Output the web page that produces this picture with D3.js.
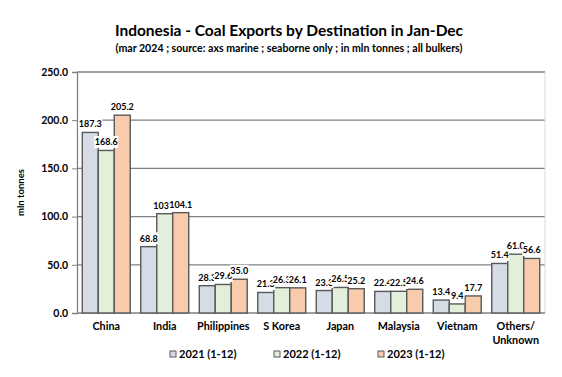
<!DOCTYPE html>
<html>
<head>
<meta charset="utf-8">
<script src="https://cdn.jsdelivr.net/npm/d3@7"></script>
<style>
  body { margin: 0; background: #fff; }
  text { font-family: Lato, "Open Sans", sans-serif; font-weight: bold; fill: #000; }
</style>
</head>
<body>
<div id="container"></div>
<script>
/* DATA */
const categories = ["China", "India", "Philippines", "S Korea", "Japan", "Malaysia", "Vietnam", "Others/\nUnknown"]
const seriesNames = ["2021 (1-12)", "2022 (1-12)", "2023 (1-12)"]
const values2021 = [187.3, 68.8, 28.3, 21.3, 23.3, 22.4, 13.4, 51.4]
const values2022 = [168.6, 103.0, 29.6, 26.3, 26.5, 22.5, 9.4, 61.0]
const values2023 = [205.2, 104.1, 35.0, 26.1, 25.2, 24.6, 17.7, 56.6]
const yTicks = [0, 50, 100, 150, 200, 250]

/* CONSTANTS */
const width = 562, height = 377
const margin = { top: 72, bottom: 64, left: 77, right: 17 }
const colors = ["#d6dce5", "#e2efda", "#f8cbad"]
const allValues = [values2021, values2022, values2023]

const svg = d3.select("#container").append("svg")
  .attr("width", width)
  .attr("height", height)

/* SCALES */
const xScale = d3.scaleBand()
  .domain(categories)
  .range([margin.left, width - margin.right])
  .paddingInner(0.18)
  .paddingOuter(0.09)

const xSub = d3.scaleBand()
  .domain(seriesNames)
  .range([0, xScale.bandwidth()])

const yScale = d3.scaleLinear()
  .domain([0, 250])
  .range([height - margin.bottom, margin.top])

// title
svg.append("text")
  .attr("x", 289).attr("y", 36)
  .attr("text-anchor", "middle")
  .style("font-size", "15.5px")
  .text("Indonesia - Coal Exports by Destination in Jan-Dec")

svg.append("text")
  .attr("x", 289).attr("y", 52)
  .attr("text-anchor", "middle")
  .style("font-size", "10.6px")
  .text("(mar 2024 ; source: axs marine ; seaborne only ; in mln tonnes ; all bulkers)")

// gridlines
svg.append("g")
  .selectAll("line")
  .data(yTicks.slice(1))
  .join("line")
  .attr("x1", margin.left).attr("x2", width - margin.right)
  .attr("y1", d => yScale(d)).attr("y2", d => yScale(d))
  .attr("stroke", "#808080")
  .attr("stroke-width", 1.3)

// right border
svg.append("line")
  .attr("x1", width - margin.right).attr("x2", width - margin.right)
  .attr("y1", margin.top).attr("y2", yScale(0))
  .attr("stroke", "#d9d9d9")

// y axis
const yAxis = d3.axisLeft(yScale)
  .tickValues(yTicks)
  .tickFormat(d3.format(".1f"))
  .tickSize(5)
  .tickPadding(4)

const gy = svg.append("g")
  .attr("transform", `translate(${margin.left},0)`)
  .call(yAxis)
gy.select(".domain").attr("stroke", "#808080").attr("stroke-width", 1.3)
gy.selectAll(".tick line").attr("stroke", "#808080")
gy.selectAll("text").style("font-size", "10.5px").style("font-family", "Lato, sans-serif")

svg.append("text")
  .attr("transform", `translate(24,${yScale(125)}) rotate(-90)`)
  .attr("text-anchor", "middle")
  .style("font-size", "9.5px")
  .text("mln tonnes")

// x axis
svg.append("line")
  .attr("x1", margin.left).attr("x2", width - margin.right)
  .attr("y1", yScale(0)).attr("y2", yScale(0))
  .attr("stroke", "#808080").attr("stroke-width", 1.3)

svg.append("g")
  .selectAll("text")
  .data(categories)
  .join("text")
  .attr("x", d => xScale(d) + xScale.bandwidth() / 2)
  .attr("y", yScale(0) + 17)
  .attr("text-anchor", "middle")
  .style("font-size", "10.8px")
  .each(function (d) {
    d.split("\n").forEach((line, i) => {
      d3.select(this).append("tspan")
        .attr("x", xScale(d) + xScale.bandwidth() / 2)
        .attr("dy", i === 0 ? 0 : 14)
        .text(line)
    })
  })

// bars
const barData = []
categories.forEach((c, ci) => {
  seriesNames.forEach((s, si) => {
    barData.push({ cat: c, series: s, si: si, value: allValues[si][ci] })
  })
})

svg.append("g")
  .selectAll("rect")
  .data(barData)
  .join("rect")
  .attr("x", d => xScale(d.cat) + xSub(d.series))
  .attr("y", d => yScale(d.value))
  .attr("width", xSub.bandwidth())
  .attr("height", d => yScale(0) - yScale(d.value))
  .attr("fill", d => colors[d.si])
  .attr("stroke", "#595959")
  .attr("stroke-width", 1.4)

// value labels with white boxes (later ones cover earlier ones)
const labelG = svg.append("g")
barData.forEach(d => {
  const cx = xScale(d.cat) + xSub(d.series) + xSub.bandwidth() / 2
  const cy = yScale(d.value) - 5
  const g = labelG.append("g")
  const rect = g.append("rect").attr("fill", "#fff")
  const t = g.append("text")
    .attr("x", cx).attr("y", cy)
    .attr("text-anchor", "middle")
    .style("font-size", "9px")
    .text(d3.format(".1f")(d.value))
  const w = t.node().getComputedTextLength()
  rect.attr("x", cx - w / 2 - 0.5).attr("y", cy - 9.5)
    .attr("width", w + 1).attr("height", 12)
})

// legend
const legend = svg.append("g")
  .selectAll("g")
  .data(seriesNames)
  .join("g")
  .attr("transform", (d, i) => `translate(${170 + i * 104},358)`)

legend.append("rect")
  .attr("x", 0).attr("y", -7)
  .attr("width", 6).attr("height", 6)
  .attr("fill", (d, i) => colors[i])
  .attr("stroke", "#595959")

legend.append("text")
  .attr("x", 9).attr("y", 0)
  .style("font-size", "11px")
  .text(d => d)
</script>
</body>
</html>
